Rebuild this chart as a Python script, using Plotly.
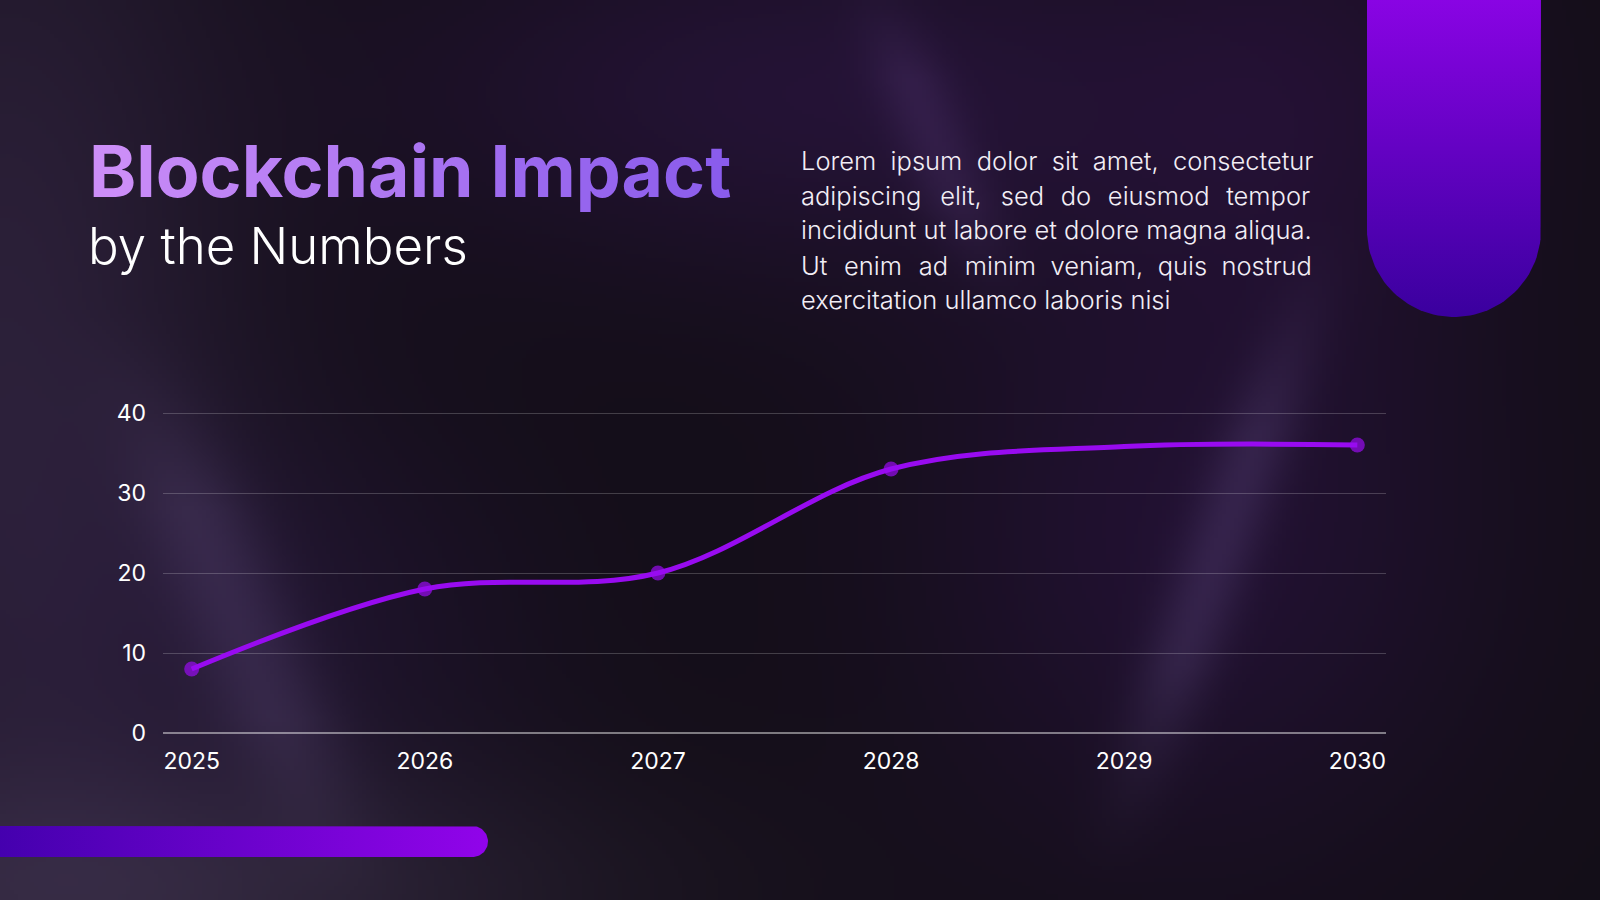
import base64
import struct
import zlib

import numpy as np
import plotly.graph_objects as go

# data
years = [2025, 2026, 2027, 2028, 2029, 2030]
values = [8, 18, 20, 33, 35.8, 36]
y_ticks = [0, 10, 20, 30, 40]

title = "Blockchain Impact"
subtitle = "by the Numbers"
body_lines = [
    "Lorem ipsum dolor sit amet, consectetur",
    "adipiscing elit, sed do eiusmod tempor",
    "incididunt ut labore et dolore magna aliqua.",
    "Ut enim ad minim veniam, quis nostrud",
    "exercitation ullamco laboris nisi",
]
# how the block is justified: spaces per gap and extra hair spaces (last line is ragged)
gap_spaces = [2, 2, 1, 2, 1]
gap_hairs = [0, 7, 0, 3, 0]

W, H = 1600, 900
BASE = np.array([19, 14, 23], float)


def justify(line, n_space, n_hair):
    words = line.split(" ")
    out = words[0]
    for j, w in enumerate(words[1:]):
        gap = " " if n_space == 1 else "\u00a0" * n_space
        hairs = n_hair // (len(words) - 1) + (1 if j < n_hair % (len(words) - 1) else 0)
        out += gap + "\u200a" * hairs + w
    return out


# --- background picture (soft glows + light streaks), built with numpy ---
def make_png(arr):
    h, w, _ = arr.shape
    raw = b"".join(b"\x00" + arr[r].tobytes() for r in range(h))

    def chunk(tag, data):
        c = struct.pack(">I", len(data)) + tag + data
        return c + struct.pack(">I", zlib.crc32(tag + data) & 0xFFFFFFFF)

    png = b"\x89PNG\r\n\x1a\n"
    png += chunk(b"IHDR", struct.pack(">IIBBBBB", w, h, 8, 2, 0, 0, 0))
    png += chunk(b"IDAT", zlib.compress(raw, 9))
    png += chunk(b"IEND", b"")
    return "data:image/png;base64," + base64.b64encode(png).decode()


bw, bh = 400, 225
gx, gy = np.meshgrid(np.linspace(0, W, bw), np.linspace(0, H, bh))
img = np.zeros((bh, bw, 3)) + BASE


def glow(cx, cy, rx, ry, col, k):
    d = ((gx - cx) / rx) ** 2 + ((gy - cy) / ry) ** 2
    return np.exp(-d)[..., None] * (np.array(col, float) - BASE) * k


def streak(x0, y0, x1, y1, width, col, k):
    t = (gy - y0) / (y1 - y0)
    cx = x0 + (x1 - x0) * np.clip(t, 0, 1)
    taper = np.clip(np.minimum(t, 1 - t) * 3, 0, 1) ** 1.5
    d = ((gx - cx) / width) ** 2
    return (np.exp(-d) * taper)[..., None] * (np.array(col, float) - BASE) * k


img += glow(0, 380, 240, 640, [46, 34, 60], 0.9)
img += glow(820, 90, 450, 190, [40, 20, 60], 0.8)
img += glow(1200, 540, 300, 330, [38, 18, 58], 0.75)
img += glow(300, 620, 260, 220, [34, 20, 52], 0.6)
img += glow(160, 900, 460, 140, [46, 38, 56], 0.9)
img += glow(1320, 80, 200, 260, [38, 16, 54], 0.5)
img += streak(110, 300, 360, 930, 60, [56, 46, 70], 0.5)
img += streak(1340, 200, 1100, 900, 40, [58, 50, 74], 0.5)
img += streak(860, -50, 1010, 330, 40, [56, 42, 72], 0.4)
img = np.clip(img, 0, 255).astype(np.uint8)
bg_src = make_png(img)

fig = go.Figure()

# decorative pill (top right) and bar (bottom left) on a full-page pixel axis
r = 87
cx, cy = 1367 + r, 317 - r
ang = np.linspace(0, np.pi, 60)
pill_x = [1541, 1541] + list(cx + r * np.cos(ang)) + [1367, 1367]
pill_y = [-20, cy] + list(cy + r * np.sin(ang)) + [cy, -20]
fig.add_trace(go.Scatter(
    x=pill_x, y=pill_y, xaxis="x2", yaxis="y2", mode="lines",
    line=dict(width=0), fill="toself", hoverinfo="skip", showlegend=False,
    fillgradient=dict(type="vertical", colorscale=[[0, "#3a009e"], [1, "#8e04e8"]]),
))

rb = 15.5
ang = np.linspace(-np.pi / 2, np.pi / 2, 40)
bar_x = [-10] + list(488 - rb + rb * np.cos(ang)) + [-10]
bar_y = [826] + list(841.5 + rb * np.sin(ang)) + [857]
fig.add_trace(go.Scatter(
    x=bar_x, y=bar_y, xaxis="x2", yaxis="y2", mode="lines",
    line=dict(width=0), fill="toself", hoverinfo="skip", showlegend=False,
    fillgradient=dict(type="horizontal", colorscale=[[0, "#4300ad"], [1, "#9104ea"]]),
))

# the data line
fig.add_trace(go.Scatter(
    x=years, y=values, mode="lines+markers",
    line=dict(color="#980bf0", width=5, shape="spline"),
    marker=dict(color="#980bf0", size=[15, 15, 15, 15, 0, 15], line=dict(width=0)),
    showlegend=False,
))

# title with a left-to-right colour blend, one span per letter
c0 = np.array([0xCC, 0x8E, 0xF8])
c1 = np.array([0x8A, 0x5C, 0xEC])
spans = []
for i, ch in enumerate(title):
    c = (c0 + (c1 - c0) * i / (len(title) - 1)).astype(int)
    spans.append(f"<span style='color:rgb({c[0]},{c[1]},{c[2]})'>{ch}</span>")
title_html = "".join(spans)

ann = [
    dict(text=title_html, x=87 / W, y=1 - 216 / H, xref="paper", yref="paper",
         xanchor="left", yanchor="bottom", showarrow=False,
         font=dict(family="Inter", size=71.5, weight=700)),
    dict(text=subtitle, x=86 / W, y=1 - 278 / H, xref="paper", yref="paper",
         xanchor="left", yanchor="bottom", showarrow=False,
         font=dict(family="Inter", size=51, weight=300, color="white")),
]
for i, line in enumerate(body_lines):
    ann.append(dict(
        text=justify(line, gap_spaces[i], gap_hairs[i]),
        x=799 / W, y=1 - (160 + 35 * i) / H,
        xref="paper", yref="paper", xanchor="left", yanchor="middle", showarrow=False,
        font=dict(family="Inter", size=25.5, weight=300, color="#f2eef6"),
    ))

fig.update_layout(
    width=W, height=H,
    margin=dict(l=0, r=0, t=0, b=0, pad=0, autoexpand=False),
    paper_bgcolor="#130e17",
    plot_bgcolor="rgba(0,0,0,0)",
    images=[dict(source=bg_src, xref="paper", yref="paper", x=0, y=1,
                 sizex=1, sizey=1, sizing="stretch", layer="below")],
    annotations=ann,
    xaxis=dict(
        domain=[163 / W, 1386 / W], range=[2024.877, 2030.123],
        tickvals=years, showgrid=False, zeroline=False, showline=False,
        ticks="", ticklabelstandoff=12, automargin=False,
        tickfont=dict(family="Inter", size=23, color="white"),
    ),
    yaxis=dict(
        domain=[1 - 733 / H, 1 - 411.4 / H], range=[0, 40.2],
        tickvals=y_ticks, showgrid=True, gridcolor="rgba(255,255,255,0.2)",
        gridwidth=1, zeroline=True, zerolinecolor="rgba(255,255,255,0.45)",
        zerolinewidth=1.5, showline=False, ticks="", ticklabelstandoff=16,
        automargin=False, tickfont=dict(family="Inter", size=23, color="white"),
    ),
    xaxis2=dict(domain=[0, 1], range=[0, W], visible=False, fixedrange=True),
    yaxis2=dict(domain=[0, 1], range=[H, 0], visible=False, fixedrange=True),
)

fig.write_html(
    "out.html",
    config={"displayModeBar": False},
    post_script="document.body.style.margin='0';document.body.style.overflow='hidden';",
)
